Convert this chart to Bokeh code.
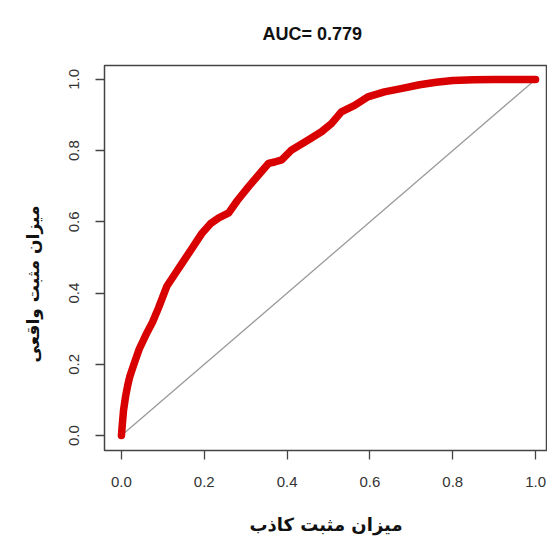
from bokeh.plotting import figure
from bokeh.models import Range1d, Title, FixedTicker
from bokeh.embed import file_html
from bokeh.resources import INLINE

# ROC curve
fpr = [0, 0.002, 0.005, 0.01, 0.015, 0.02, 0.03, 0.043, 0.06, 0.075, 0.09, 0.11,
       0.13, 0.147, 0.17, 0.195, 0.215, 0.235, 0.259, 0.28, 0.307, 0.33, 0.355,
       0.37, 0.387, 0.411, 0.43, 0.451, 0.483, 0.507, 0.531, 0.563, 0.595, 0.635,
       0.675, 0.72, 0.76, 0.8, 0.85, 0.9, 0.95, 1.0]
tpr = [0, 0.03, 0.07, 0.11, 0.14, 0.165, 0.2, 0.243, 0.285, 0.318, 0.36, 0.42,
       0.455, 0.485, 0.525, 0.569, 0.595, 0.611, 0.625, 0.66, 0.699, 0.73, 0.764,
       0.768, 0.774, 0.802, 0.815, 0.830, 0.853, 0.876, 0.909, 0.927, 0.951, 0.965,
       0.974, 0.985, 0.992, 0.997, 0.999, 1.0, 1.0, 1.0]
diag_x = [0, 1]
diag_y = [0, 1]
ticks = [0.0, 0.2, 0.4, 0.6, 0.8, 1.0]
tick_labels = {0.0: "0.0", 0.2: "0.2", 0.4: "0.4", 0.6: "0.6", 0.8: "0.8", 1.0: "1.0"}
title_text = "AUC= 0.779"
xlabel = "میزان مثبت کاذب"
ylabel = "میزان مثبت واقعی"

p = figure(width=547, height=537, x_range=Range1d(-0.0409, 1.0288),
           y_range=Range1d(-0.0419, 1.039), output_backend="svg",
           toolbar_location=None, min_border_left=102, min_border_right=0,
           min_border_top=65, min_border_bottom=85)

p.line(diag_x, diag_y, line_color="#9a9a9a", line_width=1.3)
p.line(fpr, tpr, line_color="#d80000", line_width=7.5, line_cap="round", line_join="round")

p.grid.visible = False
p.outline_line_color = "#444444"
p.outline_line_width = 1.5

for ax in (p.xaxis[0], p.yaxis[0]):
    ax.ticker = FixedTicker(ticks=ticks)
    ax.major_label_overrides = tick_labels
    ax.axis_line_color = None
    ax.major_tick_in = 0
    ax.major_tick_out = 9
    ax.major_tick_line_color = "#444444"
    ax.major_tick_line_width = 1.3
    ax.minor_tick_line_color = None
    ax.major_label_text_font = "Liberation Sans"
    ax.major_label_text_font_size = "15px"
    ax.major_label_text_color = "#333333"

p.xaxis[0].major_label_standoff = 17
p.yaxis[0].major_label_standoff = 16
p.yaxis[0].major_label_orientation = "vertical"

p.xaxis[0].axis_label = xlabel
p.xaxis[0].axis_label_text_font = "DejaVu Sans"
p.xaxis[0].axis_label_text_font_style = "bold"
p.xaxis[0].axis_label_text_font_size = "18px"
p.xaxis[0].axis_label_text_color = "#111111"
p.xaxis[0].axis_label_standoff = 24

p.title = Title(text=title_text, align="left", offset=158, standoff=43,
                text_font="Liberation Sans", text_font_style="bold",
                text_font_size="18px", text_color="#111111")

p.add_layout(Title(text=ylabel, align="left", offset=88, standoff=44,
                   vertical_align="top",
                   text_font="DejaVu Sans", text_font_style="bold",
                   text_font_size="17px", text_color="#111111"), "left")

open("out.html", "w").write(file_html(p, INLINE))
